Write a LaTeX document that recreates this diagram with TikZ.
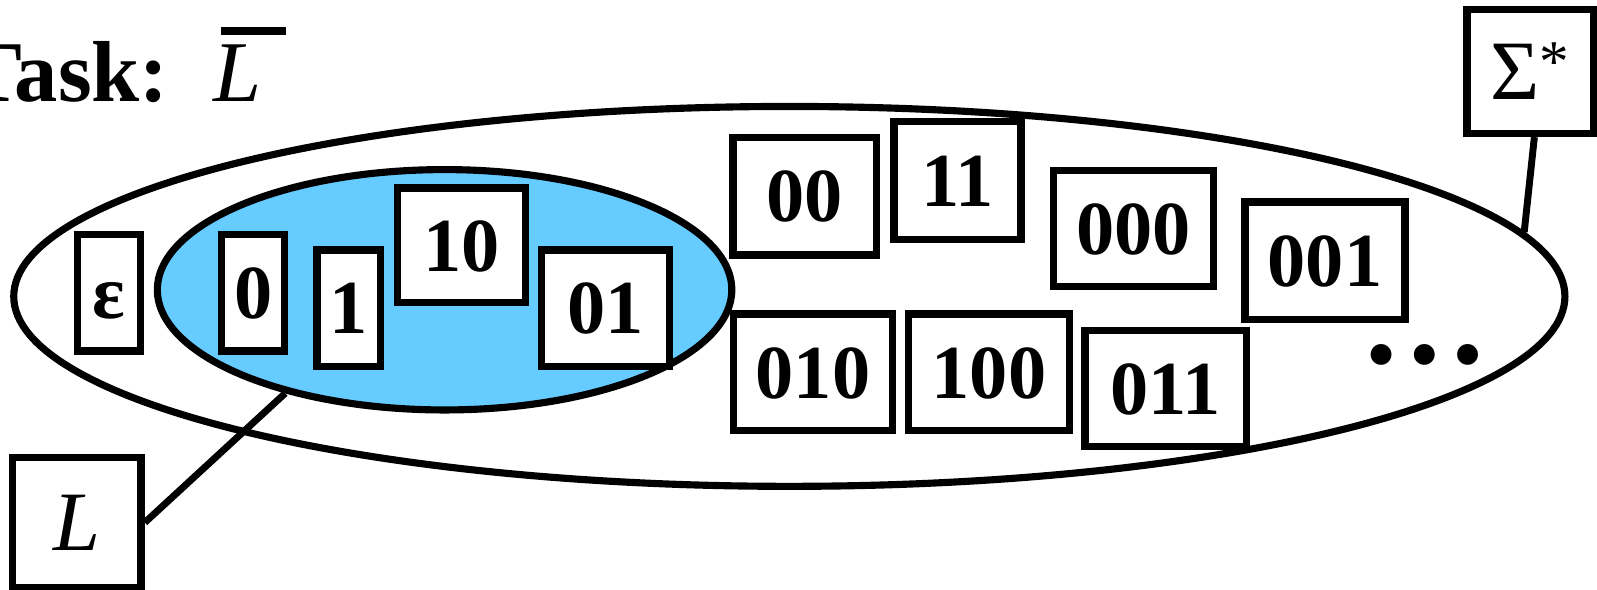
\documentclass[tikz,border=0pt]{standalone}
\usepackage{fontspec}
\setmainfont{Liberation Serif}
\usetikzlibrary{shapes.geometric}
\definecolor{setblue}{RGB}{102,204,255}
\newcommand\digfont{\fontsize{37.5pt}{37.5pt}\selectfont\bfseries}
\begin{document}
\begin{tikzpicture}[x=0.5pt,y=-0.5pt,
  strbox/.style={draw, line width=3.6pt, fill=white, inner sep=0pt,
    font=\digfont, text height=25.35pt, text depth=0pt},
  setshape/.style={ellipse, draw, line width=3.5pt, inner sep=0pt},
  link/.style={line width=3.4pt},
  namebox/.style={draw, line width=3.6pt, fill=white, inner sep=0pt,
    font=\fontsize{41.5pt}{41.5pt}\selectfont}]
\useasboundingbox (0,0) rectangle (1568,579);
% sets
\node[setshape, fill=white, minimum width=761.5pt, minimum height=186.5pt] (U) at (775,291) {};
\node[setshape, fill=setblue, minimum width=282pt, minimum height=118pt] (Lset) at (436.5,284.5) {};
% title
\node[anchor=base east, inner sep=0pt, font=\fontsize{42.5pt}{42.5pt}\selectfont\bfseries] (task) at (166,100) {Task:};
\node[anchor=base west, inner sep=0pt, font=\fontsize{42.5pt}{42.5pt}\selectfont\itshape] (Lbar) at (209,100)
  {\rlap{\hspace{4pt}\raisebox{32.7pt}{\rule{31.5pt}{4.2pt}}}L};
% strings
\node[strbox, minimum width=30.9pt, minimum height=57.1pt] (eps) at (107,287.5) {ε};
\node[strbox, minimum width=31.1pt, minimum height=57.1pt] (s0) at (248.5,287.5) {0};
\node[strbox, minimum width=31.1pt, minimum height=57.1pt] (s1) at (342.5,302.5) {1};
\node[strbox, minimum width=62.8pt, minimum height=56.3pt] (s10) at (453,241) {10};
\node[strbox, minimum width=63.1pt, minimum height=57.1pt] (s01) at (594.5,302.5) {01};
\node[strbox, minimum width=70.3pt, minimum height=57.6pt] (s00) at (790,192.6) {00};
\node[strbox, minimum width=62.4pt, minimum height=57.9pt] (s11) at (940,177.3) {11};
\node[strbox, minimum width=78.6pt, minimum height=57.1pt] (s000) at (1113,224.5) {000};
\node[strbox, minimum width=78.6pt, minimum height=57.8pt] (s001) at (1301,256) {001};
\node[strbox, minimum width=78.3pt, minimum height=57.1pt] (s010) at (798.3,365.5) {010};
\node[strbox, minimum width=79.3pt, minimum height=57.1pt] (s100) at (971,365.5) {100};
\node[strbox, minimum width=79.1pt, minimum height=57.2pt] (s011) at (1144.5,381.4) {011};
\node[anchor=base, inner sep=0pt, text height=10pt, text depth=0pt,
  font=\fontsize{63pt}{63pt}\selectfont\bfseries] (dots) at (1398.6,357) {…};
% labels
\node[namebox, minimum width=63.1pt, minimum height=63.6pt] (Lname) at (75.5,513) {\itshape L};
\node[namebox, minimum width=62pt, minimum height=61pt] (Sig) at (1502.5,70) {Σ\textsuperscript{*}};
\draw[link] (Lname.east) -- (Lset.213.5);
\draw[link] ([xshift=2pt]Sig.south) -- (U.5.7);
\end{tikzpicture}
\end{document}
